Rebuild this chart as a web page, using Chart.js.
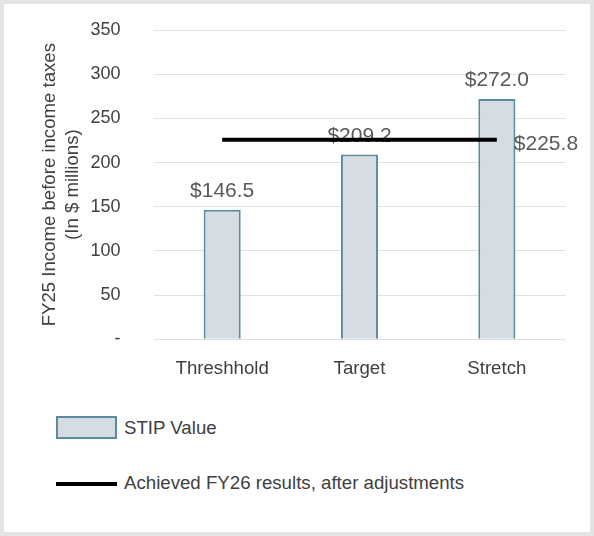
<!DOCTYPE html>
<html>
<head>
<meta charset="utf-8">
<script src="https://cdn.jsdelivr.net/npm/chart.js@4.4.1/dist/chart.umd.min.js"></script>
<style>
  body { margin: 0; background: #fff; font-family: "Liberation Sans", Arial, sans-serif; }
  #frame { position: relative; width: 594px; height: 536px; box-sizing: border-box; border: 4px solid #e4e4e4; background: #fff; }
  #plot { position: absolute; left: 0; top: 0; width: 586px; height: 400px; }
  .leg { position: absolute; left: 52px; font-size: 18.67px; color: #404040; }
  .leg .sw { position: absolute; left: 0; }
  .leg .tx { position: absolute; left: 68px; white-space: nowrap; line-height: 20px; }
</style>
</head>
<body>
<div id="frame">
  <div id="plot"><canvas id="myChart"></canvas></div>
  <div class="leg" id="leg1" style="top:412px"></div>
  <div class="leg" id="leg2" style="top:470px"></div>
</div>
<script>
const categories = ['Threshhold', 'Target', 'Stretch'];
const stipValues = [146.5, 209.2, 272.0];
const achievedValues = [225.8, 225.8, 225.8];
const yTicks = [0, 50, 100, 150, 200, 250, 300, 350];

const barFill = '#d5dde3';
const barEdge = '#5a8c9d';
const labelFont = '21px "Liberation Sans", Arial, sans-serif';

const valueLabels = {
    id: 'valueLabels',
    afterDatasetDraw(chart, args) {
        const c = chart.ctx;
        const ds = chart.data.datasets[args.index];
        c.save();
        c.font = labelFont;
        c.fillStyle = '#595959';
        c.textBaseline = 'middle';
        if (args.meta.type === 'bar') {
            c.textAlign = 'center';
            args.meta.data.forEach((el, i) => {
                c.fillText('$' + ds.data[i].toFixed(1), el.x, el.y - 18.5);
            });
        } else {
            const last = args.meta.data[args.meta.data.length - 1];
            c.textAlign = 'left';
            c.fillText('$' + ds.data[ds.data.length - 1].toFixed(1), last.x + 17, last.y + 4);
        }
        c.restore();
    }
};

const ctx = document.getElementById('myChart').getContext('2d');
const myChart = new Chart(ctx, {
    type: 'bar',
    data: {
        labels: categories,
        datasets: [{
            label: 'STIP Value',
            data: stipValues,
            backgroundColor: barFill,
            borderColor: barEdge,
            borderWidth: 2,
            barPercentage: 0.27,
            categoryPercentage: 1,
            order: 1
        }, {
            type: 'line',
            label: 'Achieved FY26 results, after adjustments',
            data: achievedValues,
            borderColor: '#000',
            borderWidth: 4,
            pointRadius: 0,
            fill: false,
            order: 0
        }]
    },
    options: {
        responsive: true,
        maintainAspectRatio: false,
        animation: false,
        layout: { padding: { top: 26, right: 24.5, bottom: 24.7, left: 0 } },
        plugins: {
            legend: { display: false },
            tooltip: { enabled: false }
        },
        scales: {
            x: {
                grid: { display: false, drawTicks: false },
                border: { display: false },
                ticks: {
                    color: '#404040',
                    padding: 18,
                    font: { family: '"Liberation Sans", Arial, sans-serif', size: 18.67 }
                },
                afterFit: (scale) => { scale.height = 40; }
            },
            y: {
                min: 0,
                max: 350,
                grid: { color: '#e0e0e0', lineWidth: 1, drawTicks: true, tickLength: 30, tickColor: 'rgba(0,0,0,0)' },
                border: { display: false },
                afterBuildTicks: (scale) => { scale.ticks = yTicks.map(v => ({ value: v })); },
                ticks: {
                    color: '#404040',
                    padding: 3,
                    font: { family: '"Liberation Sans", Arial, sans-serif', size: 18 },
                    callback: (v) => v === 0 ? '-' : v
                },
                title: {
                    display: true,
                    text: ['FY25 Income before income taxes', '(In $ millions)'],
                    color: '#404040',
                    padding: { top: 35, bottom: 0 },
                    font: { family: '"Liberation Sans", Arial, sans-serif', size: 18.6, lineHeight: 1.2 }
                },
                afterFit: (scale) => { scale.width = 149.5; }
            }
        }
    },
    plugins: [valueLabels]
});

// legend below the chart, one entry per row
document.getElementById('leg1').innerHTML =
    '<div class="sw" style="top:0;width:61px;height:23px;box-sizing:border-box;border:2px solid ' + barEdge + ';background:' + barFill + '"></div>' +
    '<div class="tx" style="top:2px">' + myChart.data.datasets[0].label + '</div>';
document.getElementById('leg2').innerHTML =
    '<div class="sw" style="top:8px;width:61px;height:4px;background:#000"></div>' +
    '<div class="tx" style="top:-1px">' + myChart.data.datasets[1].label + '</div>';
</script>
</body>
</html>
